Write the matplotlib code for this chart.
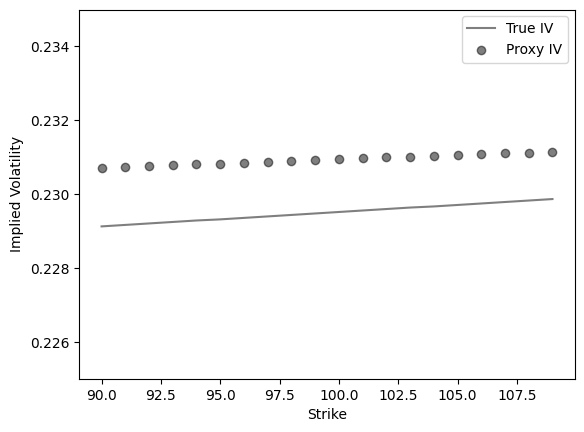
import numpy as np
from matplotlib import pyplot as plt

strikes = list(range(90, 110))
true_iv = [0.22913, 0.22917, 0.22921, 0.22925, 0.22929, 0.22932, 0.22936, 0.22940, 0.22944, 0.22948,
           0.22952, 0.22956, 0.22960, 0.22964, 0.22967, 0.22971, 0.22975, 0.22979, 0.22983, 0.22987]
proxy_iv = [0.230707, 0.230734, 0.230761, 0.230788, 0.230815, 0.230824, 0.230842, 0.230869, 0.230896, 0.230923,
            0.230950, 0.230977, 0.230995, 0.231005, 0.231032, 0.231059, 0.231086, 0.231113, 0.231113, 0.231140]

fig = plt.figure(figsize=(5.84, 4.32), dpi=100)
ax = fig.add_subplot(111)
fig.subplots_adjust(left=0.1353, right=0.9846, top=0.978, bottom=0.1227)

ax.plot(strikes, true_iv, color='k', alpha=0.5, label='True IV')
ax.scatter(strikes, proxy_iv, color='k', alpha=0.5, label='Proxy IV')
ax.set_ylim(0.225, 0.235)
ax.set_xlabel('Strike')
ax.set_ylabel('Implied Volatility')
ax.legend(loc='upper right')

fig.savefig('out.png', dpi=100)
